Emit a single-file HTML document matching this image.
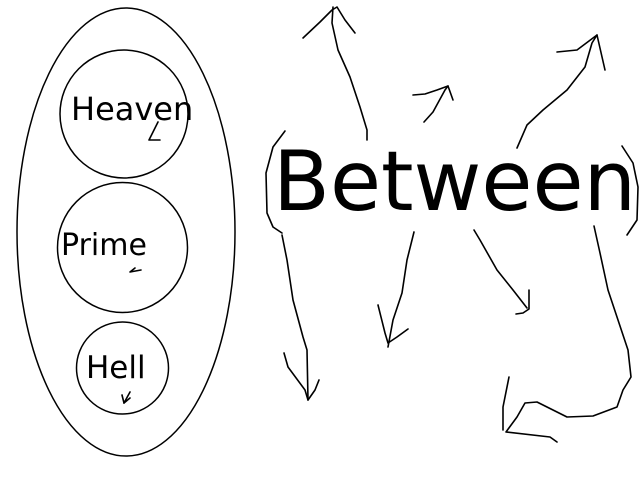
<!DOCTYPE html>
<html><head><meta charset="utf-8"><style>
html,body{margin:0;padding:0;background:#fff;width:640px;height:480px;overflow:hidden}
svg{display:block}
text{font-family:"DejaVu Sans","Liberation Sans",sans-serif;fill:#000}
</style></head><body>
<svg width="640" height="480" viewBox="0 0 640 480" xmlns="http://www.w3.org/2000/svg">
<g fill="none" stroke="#000" stroke-width="1.5">
<ellipse cx="126" cy="232" rx="109" ry="224"/>
<circle cx="124" cy="114" r="64"/>
<circle cx="122.5" cy="247.5" r="65"/>
<circle cx="122.5" cy="368" r="46"/>
</g>
<text x="71" y="120" font-size="32">Heaven</text>
<text x="61" y="255" font-size="30">Prime</text>
<text x="86" y="378" font-size="31">Hell</text>
<text x="273" y="210" font-size="83">Between</text>
<g fill="none" stroke="#000" stroke-width="1.6" stroke-linejoin="round" stroke-linecap="round">
<polyline points="158,122 149,140 160,140"/>
<polyline points="135,268 130,272 141,270"/>
<polyline points="130,392 124,403"/>
<polyline points="122,395 124,403 130,398"/>
<polyline points="367,140 367,130 360,107 350,77 338,50 332,23 333,7"/>
<polyline points="303,38 320,22 332,10 337,7 345,20 355,33"/>
<polyline points="424,122 433,112 445,90 448,86"/>
<polyline points="413,95 425,94 437,90 448,86 453,100"/>
<polyline points="517,148 527,125 543,110 567,90 585,67 592,43 597,35"/>
<polyline points="557,52 577,50 593,38 597,35 605,70"/>
<polyline points="285,131 273,147 266,173 267,213 273,227 282,233"/>
<polyline points="622,146 633,163 638,187 637,220 627,235"/>
<polyline points="282,235 287,260 293,300 303,337 307,350 308,400"/>
<polyline points="284,353 288,367 305,390 308,400 315,390 319,380"/>
<polyline points="414,232 407,260 402,293 393,320 388,347"/>
<polyline points="378,305 385,333 388,343 397,337 408,329"/>
<polyline points="474,230 480,240 497,270 513,290 527,308"/>
<polyline points="529,290 529,309 523,313 516,314"/>
<polyline points="594,226 600,253 608,290 618,320 628,350 631,377 623,390 617,407 593,416 567,417 553,410 537,402 525,403 517,417 506,432 550,437 557,442"/>
<polyline points="509,377 503,407 503,430"/>
</g>
</svg>
</body></html>
